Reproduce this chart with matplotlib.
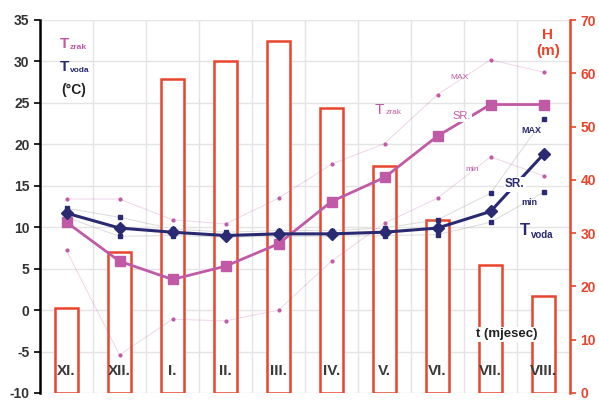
import matplotlib.pyplot as plt
import numpy as np

plt.rcParams['font.family'] = ['Liberation Sans', 'DejaVu Sans']
plt.rcParams['font.weight'] = 'bold'
plt.rcParams['axes.unicode_minus'] = False

# months (hydrological year, Nov - Aug)
months = ["XI.", "XII.", "I.", "II.", "III.", "IV.", "V.", "VI.", "VII.", "VIII."]

# water level H (m), right axis
h_level = [16, 26.5, 59, 62.3, 66, 53.5, 42.6, 32.5, 24, 18.2]

# air temperature (°C)
t_zrak_sr = [10.6, 5.9, 3.7, 5.3, 8.0, 13.1, 16.0, 21.0, 24.8, 24.8]
t_zrak_max = [13.4, 13.4, 10.9, 10.4, 13.5, 17.6, 20.1, 26.0, 30.2, 28.7]
t_zrak_min = [7.2, -5.4, -1.1, -1.3, 0.0, 5.9, 10.5, 13.5, 18.5, 16.2]

# water temperature (°C)
t_voda_sr = [11.7, 9.9, 9.4, 9.0, 9.2, 9.2, 9.4, 9.9, 11.9, 18.8]
t_voda_max = [12.3, 11.2, 9.8, 9.4, 9.6, 9.6, 9.9, 10.9, 14.1, 23.0]
t_voda_min = [11.2, 8.9, 9.0, 8.8, 8.9, 8.9, 9.0, 9.1, 10.6, 14.2]

PINK = "#c15aa6"
NAVY = "#2a2a72"
RED = "#e8452c"
GREY = "#333333"

x = np.arange(len(months))

fig = plt.figure(figsize=(5.99, 4.01), dpi=100)
ax = fig.add_axes([40 / 599, 8 / 401, 530 / 599, 373 / 401])
ax2 = ax.twinx()

# bars on the right axis, drawn behind the temperature lines
ax2.bar(x, h_level, width=0.42, facecolor="white", edgecolor=RED, linewidth=1.8, zorder=1)
ax2.set_ylim(0, 70)
ax2.set_yticks(range(0, 71, 10))
ax2.tick_params(axis="y", colors=RED, labelsize=10, length=4, width=1.2)
for lbl in ax2.get_yticklabels():
    lbl.set_fontweight("bold")
ax2.spines["right"].set_color(RED)
ax2.spines["right"].set_linewidth(1.8)
for s in ["top", "left", "bottom"]:
    ax2.spines[s].set_visible(False)

ax.set_zorder(ax2.get_zorder() - 1)
ax.patch.set_visible(False)
ax2.patch.set_alpha(0)

# overlay for the temperature lines so they sit above the bars
ax3 = fig.add_axes(ax.get_position(), sharex=ax, sharey=ax)
ax3.patch.set_visible(False)
ax3.axis("off")

ax.set_xlim(-0.5, 9.5)
ax.set_ylim(-10, 35)
ax.set_yticks(range(-10, 36, 5))
ax.set_xticks([])
ax.set_xticks(np.arange(0.5, 9.5, 1), minor=True)
ax.grid(True, axis="y", color="#e4e4e4", linewidth=1)
ax.grid(True, axis="x", which="minor", color="#e4e4e4", linewidth=1)
ax.tick_params(axis="x", which="both", length=0)
ax.tick_params(axis="y", colors="black", labelcolor=GREY, labelsize=10, length=4, width=1.2)
for lbl in ax.get_yticklabels():
    lbl.set_fontweight("bold")
ax.spines["left"].set_linewidth(1.8)
for s in ["top", "right", "bottom"]:
    ax.spines[s].set_visible(False)

# thin max/min lines
ax3.plot(x, t_zrak_max, color=PINK, alpha=0.25, linewidth=0.7, zorder=3)
ax3.plot(x, t_zrak_min, color=PINK, alpha=0.25, linewidth=0.7, zorder=3)
ax3.plot(x, t_zrak_min, linestyle="none", marker="o", markersize=2, color=PINK, zorder=3)
ax3.plot(x, t_zrak_max, linestyle="none", marker="o", markersize=2, color=PINK, zorder=3)
ax3.plot(x, t_voda_max, color="#999999", alpha=0.35, linewidth=0.7, zorder=3)
ax3.plot(x, t_voda_min, color="#999999", alpha=0.35, linewidth=0.7, zorder=3)
ax3.plot(x, t_voda_max, linestyle="none", marker="s", markersize=2.2, color=NAVY, zorder=3)
ax3.plot(x, t_voda_min, linestyle="none", marker="s", markersize=2.2, color=NAVY, zorder=3)

# monthly means
ax3.plot(x, t_zrak_sr, color=PINK, linewidth=2, marker="s", markersize=7, zorder=4)
ax3.plot(x, t_voda_sr, color=NAVY, linewidth=2.2, marker="D", markersize=6, zorder=5)

# month labels inside the plot
for xi, m in zip(x, months):
    ax3.text(xi, -7.3, m, ha="center", va="center", fontsize=11, fontweight="bold",
             color="#3a3a3a", zorder=6)

box = dict(facecolor="white", edgecolor="none", pad=1)

# axis captions
ax3.text(-0.12, 32.1, "T", color=PINK, fontsize=11, fontweight="bold", ha="left", va="center")
ax3.text(0.06, 31.7, "zrak", color=PINK, fontsize=6, fontweight="bold", ha="left", va="center")
ax3.text(-0.12, 29.3, "T", color=NAVY, fontsize=11, fontweight="bold", ha="left", va="center")
ax3.text(0.06, 28.9, "voda", color=NAVY, fontsize=6, fontweight="bold", ha="left", va="center")
ax3.text(-0.1, 26.6, "(°C)", color="#222222", fontsize=10, fontweight="bold", ha="left", va="center")
ax3.text(9.08, 33.2, "H", color=RED, fontsize=11, fontweight="bold", ha="center", va="center")
ax3.text(9.08, 31.2, "(m)", color=RED, fontsize=11, fontweight="bold", ha="center", va="center")
ax3.text(8.3, -2.9, "t (mjesec)", color="#222222", fontsize=9.5, fontweight="bold",
         ha="center", va="center", bbox=box, zorder=6)

# series captions
ax3.text(5.9, 24.2, "T", color=PINK, fontsize=11, fontweight="normal", ha="center", va="center", zorder=6)
ax3.text(6.17, 23.8, "zrak", color=PINK, fontsize=6, fontweight="normal", ha="center", va="center", zorder=6)
ax3.text(7.42, 28.1, "MAX", color=PINK, fontsize=6, fontweight="normal", ha="center", va="center", zorder=6)
ax3.text(7.46, 23.4, "SR.", color=PINK, fontsize=8, fontweight="normal", ha="center", va="center",
         bbox=box, zorder=6)
ax3.text(7.65, 17.0, "min", color=PINK, fontsize=6, fontweight="normal", ha="center", va="center", zorder=6)
ax3.text(8.78, 21.7, "MAX", color=NAVY, fontsize=6.5, ha="center", va="center", zorder=6)
ax3.text(8.46, 15.2, "SR.", color=NAVY, fontsize=8.5, ha="center", va="center", bbox=box, zorder=6)
ax3.text(8.74, 13.0, "min", color=NAVY, fontsize=6.5, ha="center", va="center", zorder=6)
ax3.text(8.65, 9.6, "T", color=NAVY, fontsize=12, fontweight="bold", ha="center", va="center", zorder=6)
ax3.text(8.98, 9.1, "voda", color=NAVY, fontsize=7, fontweight="bold", ha="center", va="center", zorder=6)

fig.savefig("out.png", dpi=100)
